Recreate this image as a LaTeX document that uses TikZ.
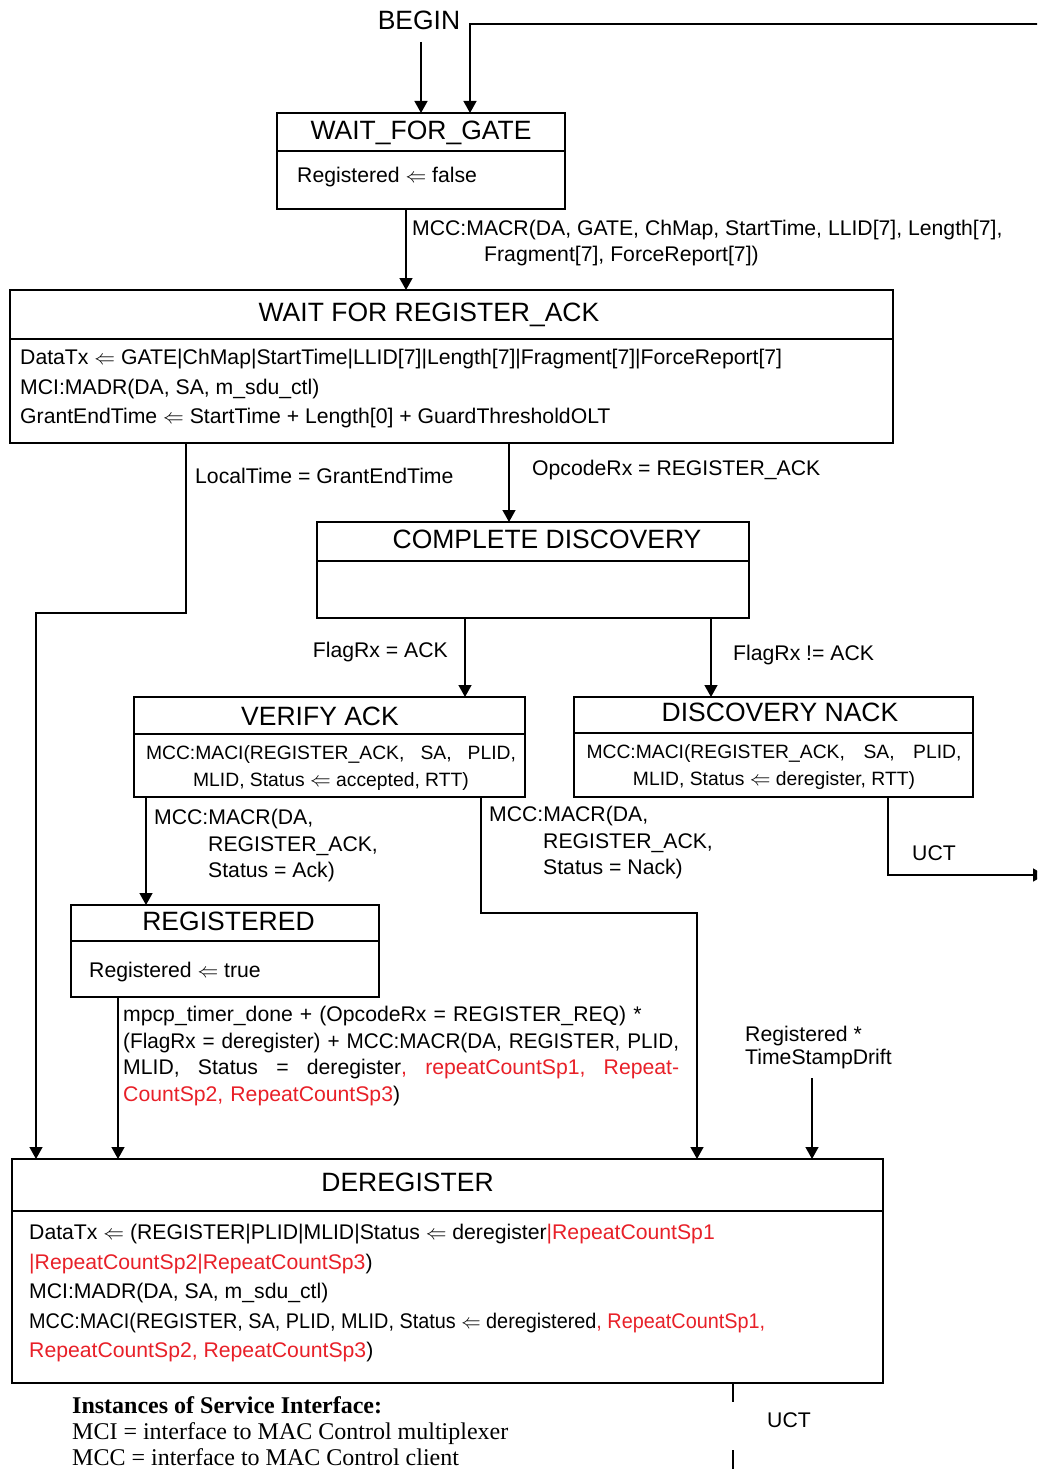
\documentclass[tikz,border=0pt]{standalone}
\usepackage{amsmath}
\usepackage{amssymb}
\usepackage{graphicx}
\usepackage{fontspec}
\setmainfont{Liberation Sans}
\newfontfamily\legendfont{Liberation Serif}
\usepackage{tikz}
\usetikzlibrary{arrows.meta}
\definecolor{newred}{RGB}{232,32,40}

\begin{document}
\begin{tikzpicture}[x=1pt, y=-1pt,
  statebox/.style={draw=black, line width=2.6pt, anchor=north west, inner sep=0pt, outer sep=0pt},
  statename/.style={inner sep=0pt, anchor=base, font=\fontsize{26.5}{30}\selectfont},
  body/.style={inner sep=0pt, anchor=north west, align=left, font=\fontsize{21.2}{29.5}\selectfont},
  small/.style={inner sep=0pt, anchor=north, align=center, font=\fontsize{19.3}{27}\selectfont},
  cond/.style={inner sep=0pt, anchor=north west, align=left, font=\fontsize{21.2}{26.6}\selectfont},
  wire/.style={line width=1.4pt},
  trans/.style={wire, -{Triangle[length=12pt,width=13pt]}}]
\useasboundingbox (0,0) rectangle (1037,1469);
\clip (0,0) rectangle (1037,1469);

% states
\node[statebox, minimum width=288pt, minimum height=96pt] (gate) at (277,113) {};
\node[statebox, minimum width=883pt, minimum height=153pt] (ack) at (10,290) {};
\node[statebox, minimum width=432pt, minimum height=96pt] (disc) at (317,522) {};
\node[statebox, minimum width=391pt, minimum height=100pt] (verify) at (134,697) {};
\node[statebox, minimum width=399pt, minimum height=100pt] (nack) at (574,697) {};
\node[statebox, minimum width=308pt, minimum height=92pt] (regd) at (71,905) {};
\node[statebox, minimum width=871pt, minimum height=224pt] (dereg) at (12,1159) {};

\draw[line width=2.6pt] (gate.west |- 0,151) -- (gate.east |- 0,151);
\draw[line width=2.6pt] (ack.west |- 0,339) -- (ack.east |- 0,339);
\draw[line width=2.6pt] (disc.west |- 0,561) -- (disc.east |- 0,561);
\draw[line width=2.6pt] (verify.west |- 0,734) -- (verify.east |- 0,734);
\draw[line width=2.6pt] (nack.west |- 0,733) -- (nack.east |- 0,733);
\draw[line width=2.6pt] (regd.west |- 0,941) -- (regd.east |- 0,941);
\draw[line width=2.6pt] (dereg.west |- 0,1211) -- (dereg.east |- 0,1211);

\node[statename] (begin) at (419,29.5) {BEGIN};
\node[statename] (gatet) at (421,139.5) {WAIT\_FOR\_GATE};
\node[statename] (ackt) at (429,321.5) {WAIT FOR REGISTER\_ACK};
\node[statename] (disct) at (547,548.5) {COMPLETE DISCOVERY};
\node[statename] (verifyt) at (320,725.5) {VERIFY ACK};
\node[statename] (nackt) at (780,721.5) {DISCOVERY NACK};
\node[statename] (regdt) at (228.5,930.5) {REGISTERED};
\node[statename] (deregt) at (407.5,1191.5) {DEREGISTER};

% state actions
\node[body] (gateb) at (297,167) {Registered $\Leftarrow$ false};
\node[body] (ackb) at (20,349) {DataTx $\Leftarrow$ GATE|ChMap|StartTime|LLID[7]|Length[7]|Fragment[7]|ForceReport[7]\\
  MCI:MADR(DA, SA, m\_sdu\_ctl)\\
  GrantEndTime $\Leftarrow$ StartTime + Length[0] + GuardThresholdOLT};
\node[small] (verifyb) at (331,745) {\makebox[370pt][s]{MCC:MACI(REGISTER\_ACK, SA, PLID,}\\
  MLID, Status $\Leftarrow$ accepted, RTT)};
\node[small] (nackb) at (774,744) {\makebox[375pt][s]{MCC:MACI(REGISTER\_ACK, SA, PLID,}\\
  MLID, Status $\Leftarrow$ deregister, RTT)};
\node[body] (regdb) at (89,962) {Registered $\Leftarrow$ true};
\node[body] (deregb) at (29,1224) {DataTx $\Leftarrow$ (REGISTER|PLID|MLID|Status $\Leftarrow$ deregister\textcolor{newred}{|RepeatCountSp1}\\
  \textcolor{newred}{|RepeatCountSp2|RepeatCountSp3})\\
  MCI:MADR(DA, SA, m\_sdu\_ctl)\\
  \resizebox{736pt}{\height}{MCC:MACI(REGISTER, SA, PLID, MLID, Status $\Leftarrow$ deregistered\textcolor{newred}{, RepeatCountSp1,}}\\
  \textcolor{newred}{RepeatCountSp2, RepeatCountSp3})};

% transition conditions
\node[cond, font=\fontsize{21.2}{26}\selectfont] (c1) at (412,220) {MCC:MACR(DA, GATE, ChMap, StartTime, LLID[7], Length[7],\\
  \hspace*{72pt}Fragment[7], ForceReport[7])};
\node[cond] (c2) at (195,468) {LocalTime = GrantEndTime};
\node[cond] (c3) at (532,460) {OpcodeRx = REGISTER\_ACK};
\node[cond, anchor=north east] (c4) at (448,642) {FlagRx = ACK};
\node[cond] (c5) at (733,645) {FlagRx != ACK};
\node[cond] (c6) at (154,809) {MCC:MACR(DA,\\ \hspace*{54pt}REGISTER\_ACK,\\ \hspace*{54pt}Status = Ack)};
\node[cond] (c7) at (489,806) {MCC:MACR(DA,\\ \hspace*{54pt}REGISTER\_ACK,\\ \hspace*{54pt}Status = Nack)};
\node[cond] (c8) at (912,845) {UCT};
\node[cond, text width=556pt] (c9) at (123,1006) {mpcp\_timer\_done + (OpcodeRx = REGISTER\_REQ) *\\
  \resizebox{556pt}{\height}{(FlagRx = deregister) + MCC:MACR(DA, REGISTER, PLID,}\\
  \makebox[556pt][l]{MLID,\hfill Status\hfill =\hfill deregister\textcolor{newred}{,\hfill repeatCountSp1,\hfill Repeat-}}\\
  \textcolor{newred}{CountSp2, RepeatCountSp3})};
\node[cond, font=\fontsize{21.2}{23}\selectfont] (c10) at (745,1026) {Registered *\\ TimeStampDrift};
\node[cond] (c11) at (767,1412) {UCT};

% transitions
\coordinate (loop) at (1045,24);
\coordinate (uctr) at (1045,875);
\coordinate (uctb) at (733,1402);
\coordinate (uctc) at (733,1450);
\coordinate (uctd) at (733,1480);
\draw[trans, shorten <=12pt] (begin.south -| 421,0) -- (gate.north -| 421,0);
\draw[trans] (loop) -| (gate.north -| 470,0);
\draw[trans] (gate.south -| 406,0) -- (ack.north -| 406,0);
\draw[trans] (ack.south -| 186,0) |- (36,613) -- (dereg.north -| 36,0);
\draw[trans] (ack.south -| 509,0) -- (disc.north -| 509,0);
\draw[trans] (disc.south -| 465,0) -- (verify.north -| 465,0);
\draw[trans] (disc.south -| 711,0) -- (nack.north -| 711,0);
\draw[trans] (verify.south -| 146,0) -- (regd.north -| 146,0);
\draw[trans] (verify.south -| 481,0) |- (697,913) -- (dereg.north -| 697,0);
\draw[trans] (nack.south -| 888,0) |- (uctr);
\draw[trans] (regd.south -| 118,0) -- (dereg.north -| 118,0);
\draw[trans, shorten <=9pt] (c10.south -| 812,0) -- (dereg.north -| 812,0);
\draw[wire] (dereg.south -| 733,0) -- (uctb);
\draw[wire] (uctc) -- (uctd);

% legend
\node[cond, font=\legendfont\fontsize{24}{26}\selectfont] (inst) at (72,1396) {\textbf{Instances of Service Interface:}\\
  MCI = interface to MAC Control multiplexer\\
  MCC = interface to MAC Control client};
\end{tikzpicture}
\end{document}
